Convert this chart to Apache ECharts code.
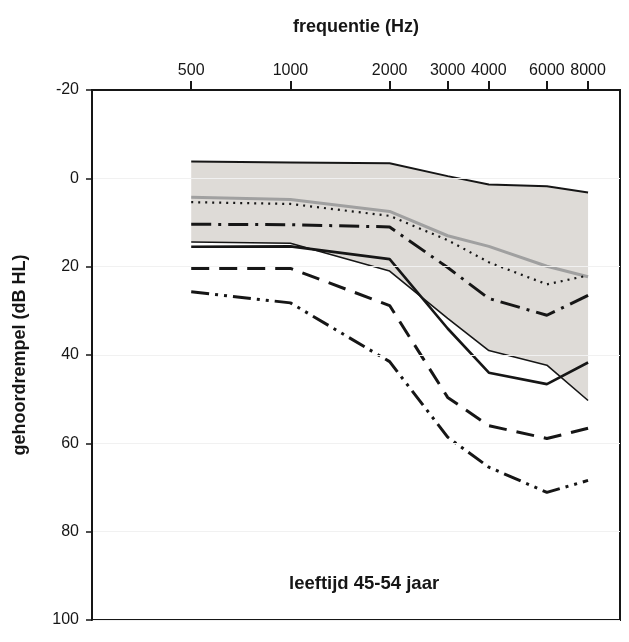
<!DOCTYPE html>
<html>
<head>
<meta charset="utf-8">
<script src="https://cdn.jsdelivr.net/npm/echarts@6/dist/echarts.min.js"></script>
<style>html,body{margin:0;padding:0;background:#fff}#c{width:629px;height:642px}</style>
</head>
<body>
<div id="c"></div>
<script>
// Frequencies (Hz)
const freqs = [500, 1000, 2000, 3000, 4000, 6000, 8000];
const tickFreqs = [500, 1000, 2000, 3000, 4000, 6000, 8000];
const yTicks = [-20, 0, 20, 40, 60, 80, 100];
// Hearing thresholds (dB HL)
const upperBound = [-3.8, -3.6, -3.4, -0.5, 1.4, 1.8, 3.2];
const medianGray = [4.3, 4.8, 7.5, 13.0, 15.4, 19.9, 22.3];
const dotted = [5.4, 5.8, 8.5, 14.0, 19.0, 24.0, 22.0];
const dashDot = [10.4, 10.5, 11.0, 20.2, 27.2, 31.0, 26.5];
const thinSolid = [14.4, 14.7, 21.0, 31.7, 39.0, 42.3, 50.3];
const thickSolid = [15.5, 15.4, 18.3, 34.0, 44.0, 46.6, 41.7];
const dashed = [20.4, 20.4, 28.8, 49.6, 56.0, 58.9, 56.6];
const dashDotDot = [25.7, 28.2, 41.5, 58.6, 65.4, 71.1, 68.4];

const pairs = arr => freqs.map((f, i) => [f, arr[i]]);
const K = '#161616';
const font = 'Liberation Sans, Arial, sans-serif';

const chart = echarts.init(document.getElementById('c'));
const line = (name, arr, color, width, type, z) => ({
  name, type: 'line', data: pairs(arr), symbol: 'none', z: z || 5,
  lineStyle: { color, width, type }
});
chart.setOption({
  animation: false,
  grid: { left: 92, right: 9, top: 90, bottom: 22, show: true, borderColor: K, borderWidth: 2, backgroundColor: 'transparent' },
  xAxis: {
    type: 'log', logBase: 2, min: 250, max: 10000, position: 'top', z: 10,
    name: 'frequentie (Hz)', nameLocation: 'middle', nameGap: 54,
    nameTextStyle: { fontFamily: font, fontWeight: 'bold', fontSize: 18, color: K },
    axisLine: { show: true, onZero: false, lineStyle: { color: K, width: 2 } },
    axisTick: { show: true, inside: false, length: 9, lineStyle: { color: K, width: 2 }, customValues: tickFreqs },
    axisLabel: { fontFamily: font, fontSize: 16, color: K, margin: 11, customValues: tickFreqs, formatter: v => String(v) },
    splitLine: { show: false }, minorTick: { show: false }
  },
  yAxis: {
    type: 'value', inverse: true, min: -20, max: 100, interval: 20, z: 10,
    name: 'gehoordrempel (dB HL)', nameLocation: 'middle', nameGap: 63, nameRotate: 90,
    nameTextStyle: { fontFamily: font, fontWeight: 'bold', fontSize: 18, color: K },
    axisLine: { show: true, onZero: false, lineStyle: { color: K, width: 2 } },
    axisTick: { show: true, length: 6, lineStyle: { color: K, width: 1.5 } },
    axisLabel: { fontFamily: font, fontSize: 16, color: K, margin: 13, customValues: yTicks },
    splitLine: { show: true, lineStyle: { color: '#f1f1f1', width: 1 } }
  },
  graphic: [{
    type: 'text', left: 289, top: 574, z: 20,
    style: { text: 'leeftijd 45-54 jaar', font: 'bold 18.5px ' + font, fill: K }
  }],
  series: [
    {
      name: 'band', type: 'custom', z: 1, data: [0],
      renderItem: (params, api) => {
        const pts = freqs.map((f, i) => api.coord([f, upperBound[i]]))
          .concat(freqs.map((f, i) => api.coord([f, thinSolid[i]])).reverse());
        return { type: 'polygon', shape: { points: pts }, style: { fill: '#dedbd7', stroke: null } };
      }
    },
    line('upper', upperBound, K, 2, 'solid'),
    line('median', medianGray, '#a0a0a0', 3, 'solid', 4),
    line('dotted', dotted, K, 2.2, [2, 5]),
    line('dashDot', dashDot, K, 3, [20, 7, 3, 7]),
    line('thin', thinSolid, K, 1.6, 'solid'),
    line('thick', thickSolid, K, 2.6, 'solid'),
    line('dashed', dashed, K, 3, [18, 10]),
    line('dashDotDot', dashDotDot, K, 3, [18, 6, 3, 6, 3, 6])
  ]
});
</script>
</body>
</html>
